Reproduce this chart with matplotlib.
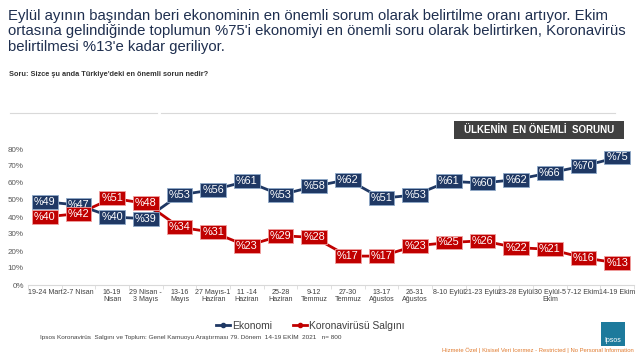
import matplotlib
matplotlib.use("Agg")
import matplotlib.pyplot as plt
from matplotlib.patches import Rectangle
from matplotlib.lines import Line2D

plt.rcParams['font.family'] = ['Liberation Sans', 'DejaVu Sans']

# data
periods = ['19-24 Mart', '2-7 Nisan', '16-19\nNisan', '29 Nisan -\n3 Mayıs',
           '13-16\nMayıs', '27 Mayıs-1\nHaziran', '11 -14\nHaziran',
           '25-28\nHaziran', '9-12\nTemmuz', '27-30\nTemmuz', '13-17\nAğustos',
           '26-31\nAğustos', '8-10 Eylül', '21-23 Eylül', '23-28 Eylül',
           '30 Eylül-5\nEkim', '7-12 Ekim', '14-19 Ekim']
ekonomi = [49, 47, 40, 39, 53, 56, 61, 53, 58, 62, 51, 53, 61, 60, 62, 66, 70, 75]
korona = [40, 42, 51, 48, 34, 31, 23, 29, 28, 17, 17, 23, 25, 26, 22, 21, 16, 13]
yticks = [0, 10, 20, 30, 40, 50, 60, 70, 80]

NAVY = '#1f3864'
RED = '#c00000'

fig = plt.figure(figsize=(6.4, 3.6), dpi=100)

# headline
fig.text(0.012, 0.975,
         "Eylül ayının başından beri ekonominin en önemli sorum olarak belirtilme oranı artıyor. Ekim\n"
         "ortasına gelindiğinde toplumun %75'i ekonomiyi en önemli soru olarak belirtirken, Koronavirüs\n"
         "belirtilmesi %13'e kadar geriliyor.",
         ha='left', va='top', fontsize=10.7, color='#1f2f4f', linespacing=1.12)
fig.text(0.014, 0.792, "Soru: Sizce şu anda Türkiye'deki en önemli sorun nedir?",
         ha='left', va='center', fontsize=5.3, fontweight='bold', color='#333333')

# thin separator lines
fig.add_artist(Line2D([10 / 640, 157 / 640], [1 - 113 / 360] * 2, color='#d9d9d9', lw=0.8))
fig.add_artist(Line2D([161 / 640, 615 / 640], [1 - 113 / 360] * 2, color='#d9d9d9', lw=0.8))

# title box
fig.add_artist(Rectangle((454 / 640, 1 - 139 / 360), 170 / 640, 18 / 360,
                         facecolor='#404040', edgecolor='none', transform=fig.transFigure))
fig.text(539 / 640, 1 - 130 / 360, 'ÜLKENİN  EN ÖNEMLİ  SORUNU', ha='center', va='center',
         fontsize=7, fontweight='bold', color='white')

ax = fig.add_axes([28 / 640, 1 - 285 / 360, 606 / 640, 136 / 360])
x = list(range(len(periods)))
ax.plot(x, ekonomi, color=NAVY, lw=2, zorder=2)
ax.plot(x, korona, color=RED, lw=2, zorder=2)

for xi, v in zip(x, ekonomi):
    ax.text(xi, v, '%' + str(v), ha='center', va='center', fontsize=7.8, color='white', zorder=3,
            bbox=dict(boxstyle='square,pad=0.18', facecolor=NAVY, edgecolor='#8ea9c8', lw=0.6))
for xi, v in zip(x, korona):
    ax.text(xi, v, '%' + str(v), ha='center', va='center', fontsize=7.8, color='white', zorder=3,
            bbox=dict(boxstyle='square,pad=0.18', facecolor=RED, edgecolor='#f0a0a0', lw=0.6))

ax.set_xlim(-0.5, len(periods) - 0.5)
ax.set_ylim(0, 80)
ax.set_yticks(yticks)
ax.set_yticklabels(['%d%%' % t for t in yticks], fontsize=5.8, color='#595959')
ax.tick_params(axis='y', length=0, pad=3)
ax.set_xticks(x)
ax.set_xticklabels(periods, fontsize=5.1, color='#404040', linespacing=1.0)
ax.tick_params(axis='x', length=0, pad=3)
ax.set_xticks([i - 0.5 for i in range(len(periods) + 1)], minor=True)
ax.tick_params(axis='x', which='minor', length=3, color='#d9d9d9')
for s in ['top', 'right', 'left']:
    ax.spines[s].set_visible(False)
ax.spines['bottom'].set_color('#d9d9d9')

# legend
handles = [Line2D([], [], color=NAVY, lw=2, marker='o', markersize=3),
           Line2D([], [], color=RED, lw=2, marker='o', markersize=3)]
fig.legend(handles, ['Ekonomi', 'Koronavirüsü Salgını'], loc='center', ncol=2,
           bbox_to_anchor=(0.485, 1 - 326 / 360), frameon=False, fontsize=7.4,
           handlelength=1.4, handletextpad=0.2, columnspacing=2.0, labelcolor='#404040')

fig.text(40 / 640, 1 - 337 / 360,
         'Ipsos Koronavirüs  Salgını ve Toplum: Genel Kamuoyu Araştırması 79. Dönem  14-19 EKİM  2021   n= 800',
         ha='left', va='center', fontsize=4.6, color='#404040')

# logo
fig.add_artist(Rectangle((601 / 640, 1 - 346 / 360), 24 / 640, 24 / 360,
                         facecolor='#1d7a9c', edgecolor='none', transform=fig.transFigure))
fig.text(613 / 640, 1 - 341 / 360, 'Ipsos', ha='center', va='center', fontsize=5, color='white')
fig.text(634 / 640, 1 - 350 / 360,
         'Hizmete Özel | Kisisel Veri Icermez - Restricted | No Personal Information',
         ha='right', va='center', fontsize=4.2, color='#e07a2e')

fig.savefig('out.png', dpi=100)
